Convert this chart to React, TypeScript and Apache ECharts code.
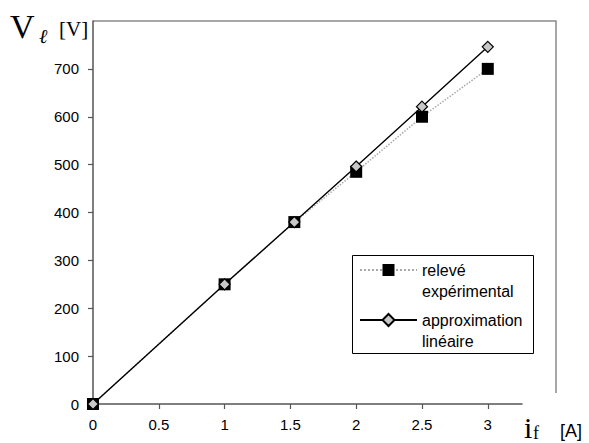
import React, { useEffect, useRef } from "react";
import * as echarts from "echarts";

const currentA = [0, 1, 1.53, 2, 2.5, 3];
const releveExp = [0, 250, 380, 485, 600, 700];
const approxLin = [0, 250, 380, 496, 621, 746];
const xTicks = [0, 0.5, 1, 1.5, 2, 2.5, 3];
const seriesNames = ["relevé\nexpérimental", "approximation\nlinéaire"];

const SANS = "'Liberation Sans', Arial, sans-serif";
const SERIF = "'Liberation Serif', 'Times New Roman', serif";

export default function App() {
  const ref = useRef<HTMLDivElement>(null);
  useEffect(() => {
    if (!ref.current) return;
    const chart = echarts.init(ref.current, null, { renderer: "svg" });
    const lh = 21.5;
    chart.setOption({
      animation: false,
      backgroundColor: "#fff",
      grid: { left: 93, right: 67, top: 21, bottom: 39, containLabel: false },
      xAxis: {
        type: "value",
        min: 0,
        max: 3.26,
        interval: 0.5,
        splitLine: { show: false },
        axisLine: { lineStyle: { color: "#555", width: 1.5 } },
        axisTick: { customValues: xTicks, length: 5, lineStyle: { color: "#555", width: 1.2 } },
        axisLabel: {
          customValues: xTicks,
          color: "#000",
          fontSize: 15,
          fontFamily: SANS,
          margin: 13,
        },
      },
      yAxis: {
        type: "value",
        min: 0,
        max: 800,
        interval: 100,
        splitLine: { show: false },
        axisLine: { show: true, lineStyle: { color: "#555", width: 1.5 } },
        axisTick: { show: true, length: 5, lineStyle: { color: "#555", width: 1.2 } },
        axisLabel: {
          color: "#000",
          fontSize: 15,
          fontFamily: SANS,
          margin: 14,
          showMaxLabel: false,
        },
      },
      legend: {
        orient: "vertical",
        left: 359,
        top: 270 - lh * 1.5,
        itemWidth: 57,
        itemHeight: 15,
        itemGap: -14.5,
        padding: 0,
        data: seriesNames,
        formatter: (name: string) => "\n" + name,
        textStyle: {
          fontSize: 16,
          fontFamily: SANS,
          color: "#000",
          lineHeight: lh,
        },
      },
      graphic: [
        {
          type: "polyline",
          shape: { points: [[93, 21], [556, 21], [556, 393]] },
          style: { stroke: "#8a8a8a", lineWidth: 1.5, fill: "none" },
          silent: true,
        },
        {
          type: "rect",
          shape: { x: 352.5, y: 255.5, width: 181, height: 98 },
          style: { stroke: "#000", lineWidth: 1, fill: "none" },
          silent: true,
        },
        {
          type: "text",
          x: 10,
          y: 26,
          style: { text: "V", font: `34px ${SERIF}`, fill: "#000", verticalAlign: "middle" },
        },
        {
          type: "text",
          x: 39,
          y: 36,
          style: { text: "ℓ", font: `italic 20px ${SERIF}`, fill: "#000", verticalAlign: "middle" },
        },
        {
          type: "text",
          x: 59,
          y: 29,
          style: { text: "[V]", font: `21px ${SERIF}`, fill: "#000", verticalAlign: "middle" },
        },
        {
          type: "text",
          x: 524,
          y: 427,
          style: { text: "i", font: `30px ${SERIF}`, fill: "#000", verticalAlign: "middle" },
        },
        {
          type: "text",
          x: 533,
          y: 433,
          style: { text: "f", font: `18px ${SERIF}`, fill: "#000", verticalAlign: "middle" },
        },
        {
          type: "text",
          x: 560,
          y: 431,
          style: { text: "[A]", font: `18px ${SANS}`, fill: "#000", verticalAlign: "middle" },
        },
      ],
      series: [
        {
          name: seriesNames[0],
          type: "line",
          data: currentA.map((x, i) => [x, releveExp[i]]),
          symbol: "rect",
          symbolSize: 12,
          itemStyle: { color: "#000", borderWidth: 0 },
          lineStyle: { type: "dotted", color: "#a8a8a8", width: 1.5 },
          z: 2,
        },
        {
          name: seriesNames[1],
          type: "line",
          data: currentA.map((x, i) => [x, approxLin[i]]),
          symbol: "diamond",
          symbolSize: 11,
          itemStyle: { color: "#c8c8c8", borderColor: "#000", borderWidth: 1.2 },
          lineStyle: { type: "solid", color: "#000", width: 1.4 },
          z: 3,
        },
      ],
    });
    return () => chart.dispose();
  }, []);
  return (
    <div
      ref={ref}
      style={{ position: "fixed", left: 0, top: 0, width: 589, height: 443 }}
    />
  );
}
